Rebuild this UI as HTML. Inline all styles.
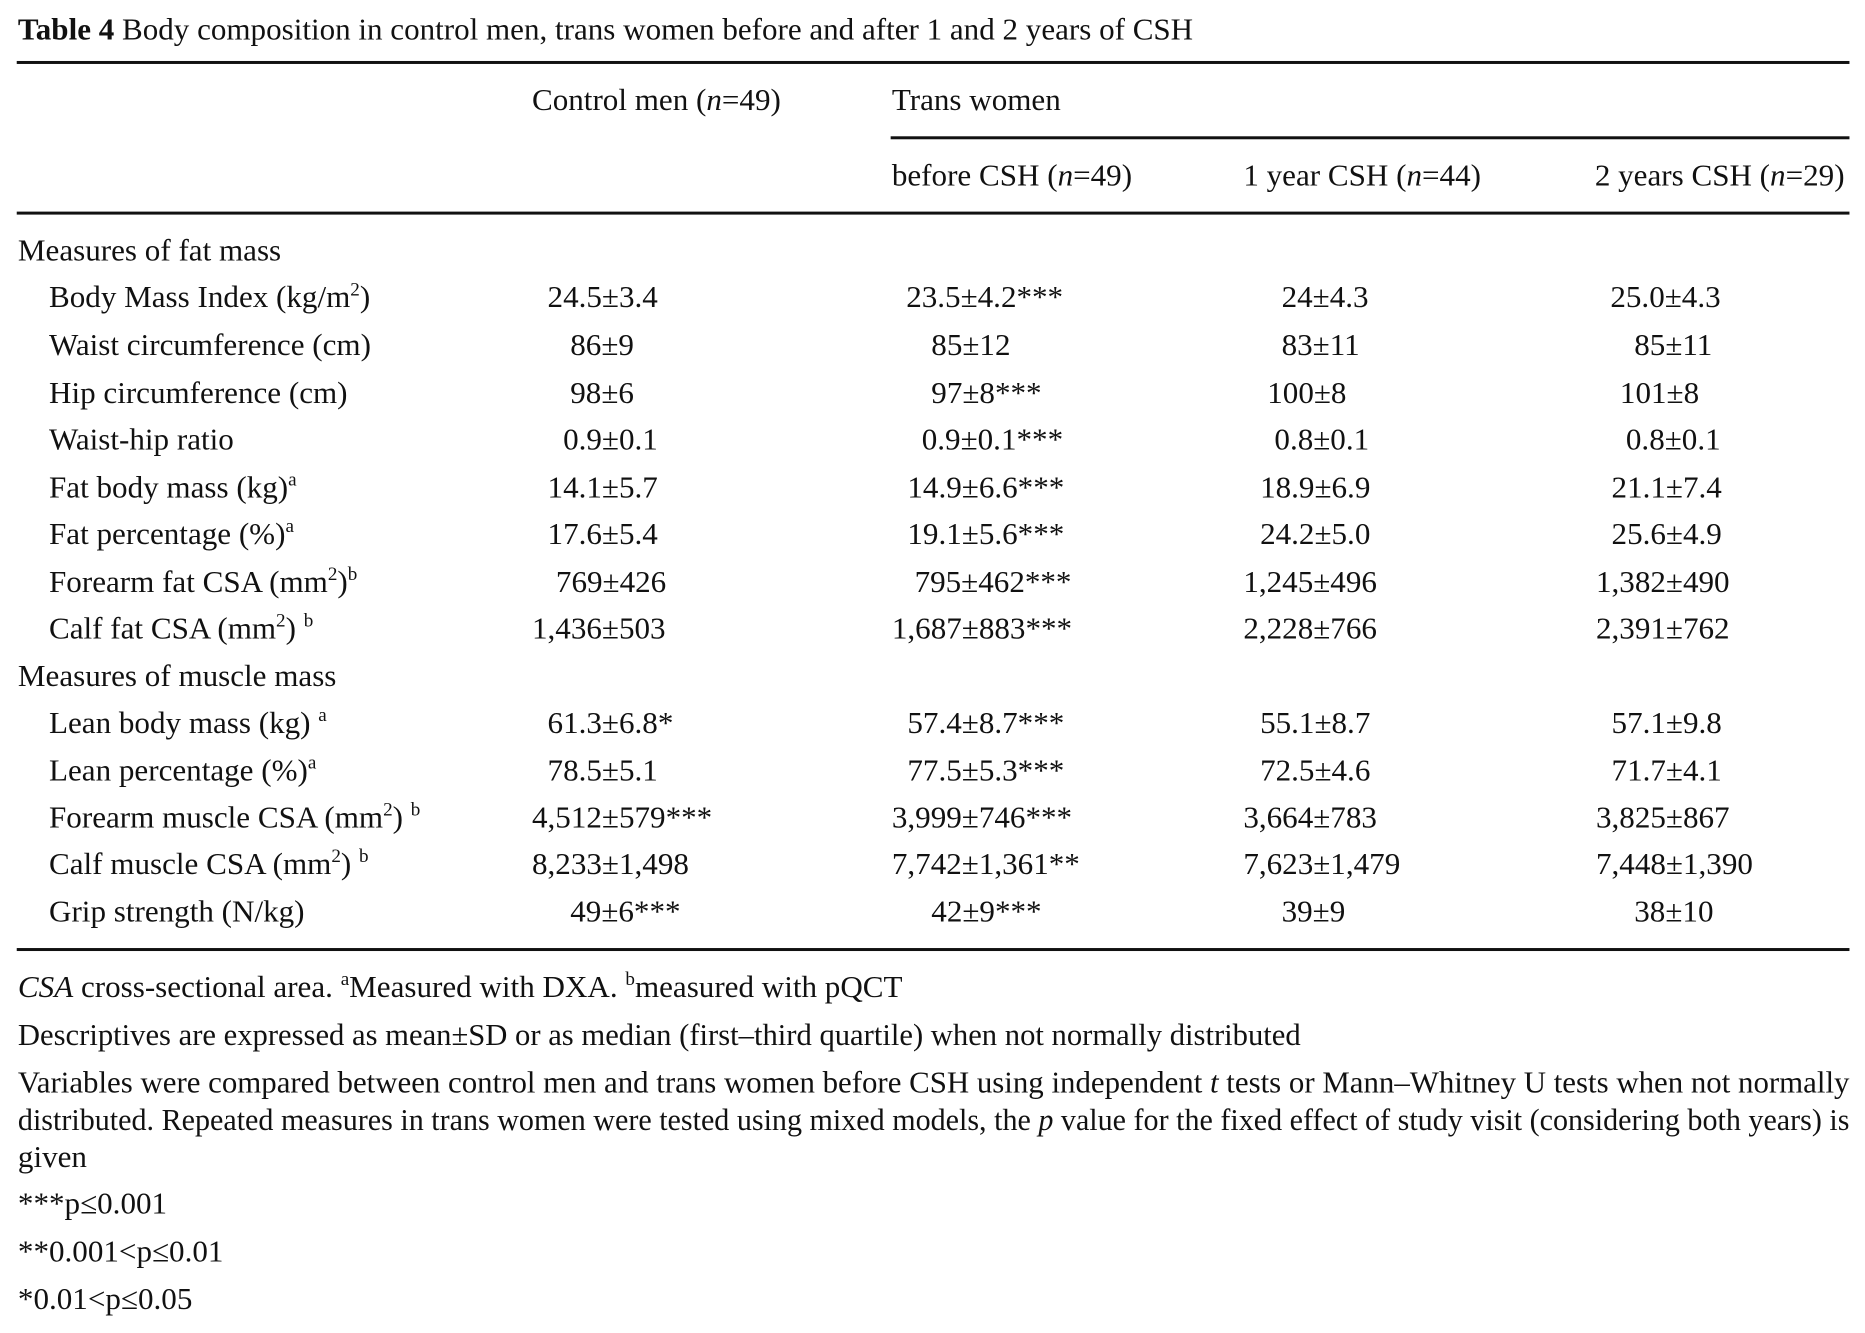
<!DOCTYPE html>
<html><head><meta charset="utf-8"><style>
html,body{margin:0;padding:0;background:#fff;}
svg{display:block;}
text{font-family:"Liberation Serif","DejaVu Serif",serif;font-size:26px;fill:#111;}
.sup{font-size:16px;}
</style></head><body>
<svg width="1865" height="1333" viewBox="0 0 1560 1115" xmlns="http://www.w3.org/2000/svg">
<text x="15" y="33" textLength="983" lengthAdjust="spacingAndGlyphs"><tspan font-weight="bold">Table 4</tspan>  Body composition in control men, trans women before and after 1 and 2 years of CSH</text>
<rect x="14" y="51" width="1533" height="2.5" fill="#111"/>
<text x="445" y="92">Control men (<tspan font-style="italic">n</tspan>=49)</text>
<text x="746" y="92">Trans women</text>
<rect x="745" y="114" width="802" height="2.5" fill="#111"/>
<text x="746" y="155">before CSH (<tspan font-style="italic">n</tspan>=49)</text>
<text x="1040" y="155">1 year CSH (<tspan font-style="italic">n</tspan>=44)</text>
<text x="1334" y="155">2 years CSH (<tspan font-style="italic">n</tspan>=29)</text>
<rect x="14" y="177" width="1533" height="2.5" fill="#111"/>

<text x="15" y="218">Measures of fat mass</text>
<text x="41" y="257">Body Mass Index (kg/m<tspan class="sup" dy="-10">2</tspan><tspan dy="10">)</tspan></text>
<text x="41" y="297">Waist circumference (cm)</text>
<text x="41" y="337">Hip circumference (cm)</text>
<text x="41" y="376">Waist-hip ratio</text>
<text x="41" y="416">Fat body mass (kg)<tspan class="sup" dy="-10">a</tspan></text>
<text x="41" y="455">Fat percentage (%)<tspan class="sup" dy="-10">a</tspan></text>
<text x="41" y="495">Forearm fat CSA (mm<tspan class="sup" dy="-10">2</tspan><tspan dy="10">)</tspan><tspan class="sup" dy="-10">b</tspan></text>
<text x="41" y="534">Calf fat CSA (mm<tspan class="sup" dy="-10">2</tspan><tspan dy="10">) </tspan><tspan class="sup" dy="-10">b</tspan></text>
<text x="15" y="574">Measures of muscle mass</text>
<text x="41" y="613">Lean body mass (kg) <tspan class="sup" dy="-10">a</tspan></text>
<text x="41" y="653">Lean percentage (%)<tspan class="sup" dy="-10">a</tspan></text>
<text x="41" y="692">Forearm muscle CSA (mm<tspan class="sup" dy="-10">2</tspan><tspan dy="10">) </tspan><tspan class="sup" dy="-10">b</tspan></text>
<text x="41" y="731">Calf muscle CSA (mm<tspan class="sup" dy="-10">2</tspan><tspan dy="10">) </tspan><tspan class="sup" dy="-10">b</tspan></text>
<text x="41" y="771">Grip strength (N/kg)</text>

<g>
<text x="458" y="257">24.5±3.4</text><text x="758" y="257">23.5±4.2***</text><text x="1072" y="257">24±4.3</text><text x="1347" y="257">25.0±4.3</text>
<text x="477" y="297">86±9</text><text x="779" y="297">85±12</text><text x="1072" y="297">83±11</text><text x="1367" y="297">85±11</text>
<text x="477" y="337">98±6</text><text x="779" y="337">97±8***</text><text x="1060" y="337">100±8</text><text x="1355" y="337">101±8</text>
<text x="471" y="376">0.9±0.1</text><text x="771" y="376">0.9±0.1***</text><text x="1066" y="376">0.8±0.1</text><text x="1360" y="376">0.8±0.1</text>
<text x="458" y="416">14.1±5.7</text><text x="759" y="416">14.9±6.6***</text><text x="1054" y="416">18.9±6.9</text><text x="1348" y="416">21.1±7.4</text>
<text x="458" y="455">17.6±5.4</text><text x="759" y="455">19.1±5.6***</text><text x="1054" y="455">24.2±5.0</text><text x="1348" y="455">25.6±4.9</text>
<text x="465" y="495">769±426</text><text x="765" y="495">795±462***</text><text x="1040" y="495">1,245±496</text><text x="1335" y="495">1,382±490</text>
<text x="445" y="534">1,436±503</text><text x="746" y="534">1,687±883***</text><text x="1040" y="534">2,228±766</text><text x="1335" y="534">2,391±762</text>
<text x="458" y="613">61.3±6.8*</text><text x="759" y="613">57.4±8.7***</text><text x="1054" y="613">55.1±8.7</text><text x="1348" y="613">57.1±9.8</text>
<text x="458" y="653">78.5±5.1</text><text x="759" y="653">77.5±5.3***</text><text x="1054" y="653">72.5±4.6</text><text x="1348" y="653">71.7±4.1</text>
<text x="445" y="692">4,512±579***</text><text x="746" y="692">3,999±746***</text><text x="1040" y="692">3,664±783</text><text x="1335" y="692">3,825±867</text>
<text x="445" y="731">8,233±1,498</text><text x="746" y="731">7,742±1,361**</text><text x="1040" y="731">7,623±1,479</text><text x="1335" y="731">7,448±1,390</text>
<text x="477" y="771">49±6***</text><text x="779" y="771">42±9***</text><text x="1072" y="771">39±9</text><text x="1367" y="771">38±10</text>
</g>
<rect x="14" y="793" width="1533" height="2.5" fill="#111"/>

<text x="15" y="834"><tspan font-style="italic">CSA</tspan> cross-sectional area. <tspan class="sup" dy="-10">a</tspan><tspan dy="10">Measured with DXA. </tspan><tspan class="sup" dy="-10">b</tspan><tspan dy="10">measured with pQCT</tspan></text>
<text x="15" y="874" textLength="1073" lengthAdjust="spacingAndGlyphs">Descriptives are expressed as mean±SD or as median (first–third quartile) when not normally distributed</text>
<text x="15" y="914" textLength="1532" lengthAdjust="spacingAndGlyphs">Variables were compared between control men and trans women before CSH using independent <tspan font-style="italic">t</tspan> tests or Mann–Whitney U tests when not normally</text>
<text x="15" y="945" textLength="1532" lengthAdjust="spacingAndGlyphs">distributed. Repeated measures in trans women were tested using mixed models, the <tspan font-style="italic">p</tspan> value for the fixed effect of study visit (considering both years) is</text>
<text x="15" y="976">given</text>
<text x="15" y="1015">***p≤0.001</text>
<text x="15" y="1055">**0.001&lt;p≤0.01</text>
<text x="15" y="1095">*0.01&lt;p≤0.05</text>
</svg>
</body></html>
